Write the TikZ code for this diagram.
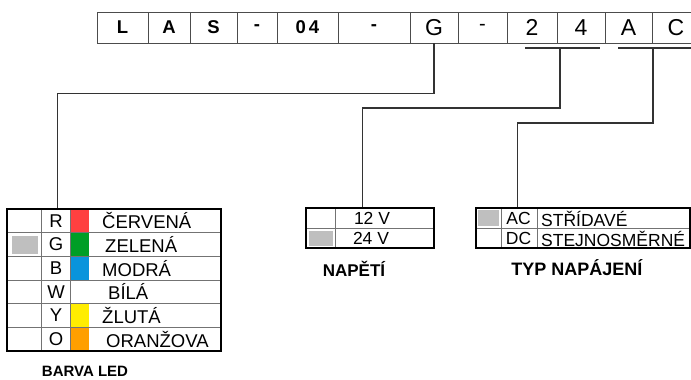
\documentclass[tikz,border=0pt]{standalone}
\usepackage{fontspec}
\setmainfont{Liberation Sans}
\begin{document}
\begin{tikzpicture}[x=1pt,y=-1pt,
  codecell/.style={draw=black!70,line width=0.7pt,minimum height=31pt,inner sep=0pt,anchor=center},
  codeb/.style={codecell,font=\fontsize{18.5}{18.5}\selectfont\bfseries},
  coder/.style={codecell,font=\fontsize{23}{23}\selectfont},
  conn/.style={draw=black!80,line width=1.1pt},
  tbl/.style={draw=black,line width=1.6pt,inner sep=0pt},
  thin/.style={draw=black!55,line width=0.6pt},
  ledtxt/.style={font=\fontsize{18.5}{18.5}\selectfont,inner sep=0pt},
  smtxt/.style={font=\fontsize{17.5}{17.5}\selectfont,inner sep=0pt},
  lab/.style={font=\fontsize{17}{17}\selectfont\bfseries,inner sep=0pt},
  shade/.style={fill=black!25,draw=none}]
\useasboundingbox (0,0) rectangle (691,380);
% ---------- code row ----------
\node[codeb,minimum width=51pt] (cL) at (122.5,27.5) {L};
\node[codeb,minimum width=42pt] (cA) at (169,27.5) {A};
\node[codeb,minimum width=47pt] (cS) at (213.5,27.5) {S};
\node[codeb,minimum width=40pt] (cD1) at (257,27.5) {-};
\node[codeb,minimum width=61pt] (c04) at (307.5,27.5) {0\hspace{3pt}4};
\node[codeb,minimum width=72pt] (cD2) at (374,27.5) {-};
\node[coder,minimum width=48pt] (cG) at (434,27.5) {G};
\node[codecell,font=\fontsize{20}{20}\selectfont,minimum width=49pt] (cD3) at (482.5,27.5) {-};
\node[coder,minimum width=50pt] (c2) at (532,27.5) {2};
\node[coder,minimum width=48pt] (c4) at (581,27.5) {4};
\node[coder,minimum width=47pt] (cA2) at (628.5,27.5) {A};
\node[coder,minimum width=48pt] (cC) at (676,27.5) {C};
% underline brackets
\coordinate (u24l) at (525,48);
\coordinate (u24r) at (600,48);
\coordinate (u24) at (560,48);
\coordinate (uACl) at (618,48);
\coordinate (uACr) at (695,48);
\coordinate (uAC) at (653,48);
\draw[conn] (u24l) -- (u24r);
\draw[conn] (uACl) -- (uACr);
% ---------- LED table ----------
\node[tbl,minimum width=214pt,minimum height=142pt] (led) at (114,280) {};
\fill[red!75!white] (70,209) rectangle (89,232.7);
\fill[green!55!black!85!cyan] (70,232.7) rectangle (89,256.3);
\fill[cyan!80!blue] (70,256.3) rectangle (89,280);
\fill[yellow!95!orange] (70,303.7) rectangle (89,327.3);
\fill[orange!75!yellow] (70,327.3) rectangle (89,351);
\fill[shade] (12,236) rectangle (38,254);
\foreach \i in {1,...,5} { \draw[thin] (7,209+23.67*\i) -- (221,209+23.67*\i); }
\draw[thin] (41,209) -- (41,351);
\draw[thin] (70,209) -- (70,351);
\node[tbl,minimum width=214pt,minimum height=142pt] at (114,280) {};
\node[ledtxt] (lR) at (56,221) {R};
\node[ledtxt] (lG) at (56,244.5) {G};
\node[ledtxt] (lB) at (56,268.2) {B};
\node[ledtxt] (lW) at (56,291.8) {W};
\node[ledtxt] (lY) at (56,315.5) {Y};
\node[ledtxt] (lO) at (56,339.2) {O};
\node[ledtxt,anchor=west] (nR) at (102,221) {ČERVENÁ};
\node[ledtxt,anchor=west] (nG) at (105,244.5) {ZELENÁ};
\node[ledtxt,anchor=west] (nB) at (102,268.2) {MODRÁ};
\node[ledtxt,anchor=west] (nW) at (108,291.8) {BÍLÁ};
\node[ledtxt,anchor=west] (nY) at (102,315.5) {ŽLUTÁ};
\node[ledtxt,anchor=west] (nO) at (106,339.2) {ORANŽOVA};
\node[lab,font=\fontsize{15}{15}\selectfont\bfseries] (tled) at (85,371) {BARVA LED};
% ---------- NAPETI table ----------
\fill[shade] (309,231) rectangle (333,246);
\draw[thin] (306,228) -- (434,228);
\draw[thin] (335,208) -- (335,248);
\node[tbl,minimum width=128pt,minimum height=40pt] (nap) at (370,228) {};
\node[smtxt] (v12) at (372,218.5) {12 V};
\node[smtxt] (v24) at (371,238.5) {24 V};
\node[lab] (tnap) at (354,269) {NAPĚTÍ};
% ---------- TYP table ----------
\fill[shade] (478,210) rectangle (499,226);
\draw[thin] (476,228) -- (690,228);
\draw[thin] (501,208) -- (501,248);
\draw[thin] (537,208) -- (537,248);
\node[tbl,minimum width=214pt,minimum height=40pt] (typ) at (583,228) {};
\node[smtxt] (tAC) at (518.5,218.5) {AC};
\node[smtxt] (tDC) at (518.5,238.5) {DC};
\node[smtxt,anchor=west] (tSt) at (541,218.5) {STŘÍDAVÉ};
\node[smtxt,anchor=west] (tSj) at (541,238.5) {STEJNOSMĚRNÉ};
\node[lab,font=\fontsize{18}{18}\selectfont\bfseries] (ttyp) at (577,268) {TYP NAPÁJENÍ};
% ---------- connectors ----------
\draw[conn] (cG.south) -- ++(0,50) -| ([xshift=51pt]led.north west);
\draw[conn] (u24) -- ++(0,60) -| ([xshift=57pt]nap.north west);
\draw[conn] (uAC) -- ++(0,75) -| ([xshift=42pt]typ.north west);
\end{tikzpicture}
\end{document}
